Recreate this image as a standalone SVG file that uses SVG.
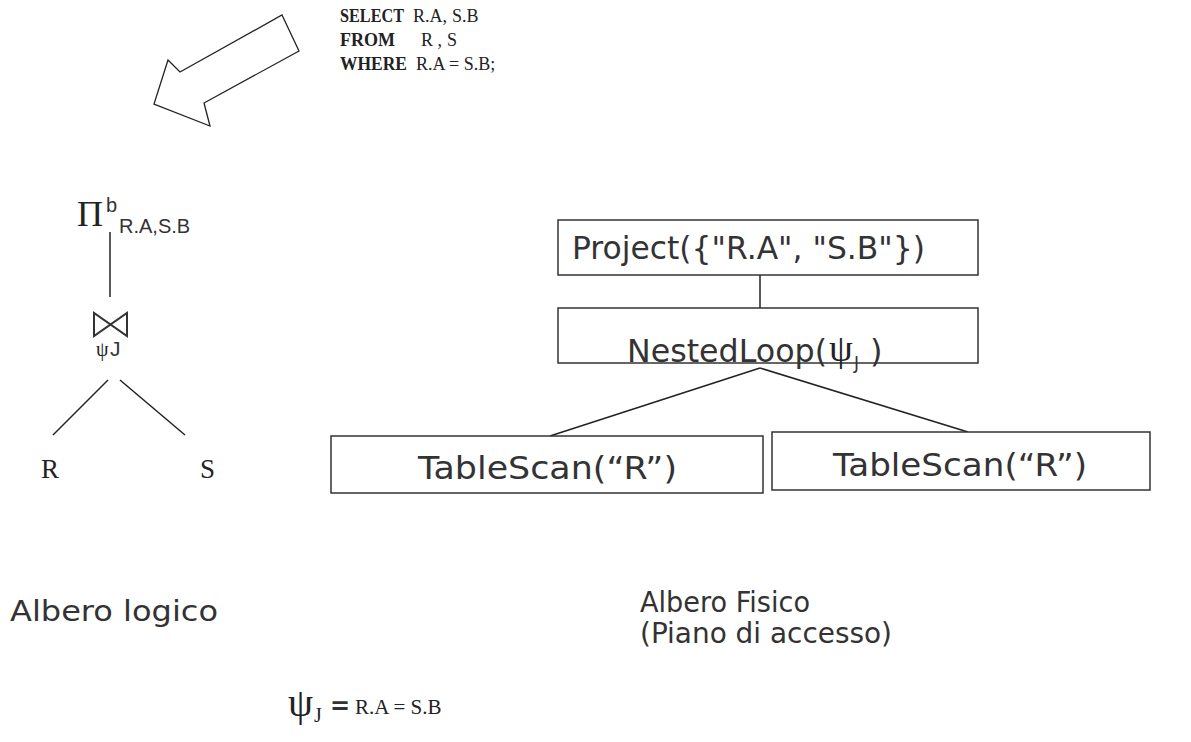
<svg xmlns="http://www.w3.org/2000/svg" width="1191" height="742" viewBox="0 0 1191 742">
<style>
.box{fill:#fff;stroke:#333;stroke-width:1.5}
.ln{stroke:#222;stroke-width:1.5;fill:none}
.hand{font-family:"DejaVu Sans","Noto Sans",sans-serif;fill:#333}
.tm{font-family:"Liberation Serif",serif;fill:#222}
.ar{font-family:"Liberation Sans",sans-serif;fill:#333}
</style>
<rect width="1191" height="742" fill="#fff"/>
<g id="arrow"><polygon points="282,15 299,51 204,103 210,126 154,104 168,60 180,72" fill="#fff" stroke="#222" stroke-width="1.3"/></g>
<g id="sql" class="tm" font-size="18">
<text x="340" y="22" font-weight="bold" textLength="64" lengthAdjust="spacingAndGlyphs">SELECT</text><text x="413" y="22">R.A,</text><text x="452" y="22">S.B</text>
<text x="340" y="46" font-weight="bold" textLength="55" lengthAdjust="spacingAndGlyphs">FROM</text><text x="421" y="46">R ,</text><text x="447" y="46">S</text>
<text x="340" y="70" font-weight="bold" textLength="67" lengthAdjust="spacingAndGlyphs">WHERE</text><text x="416" y="70">R.A = S.B;</text>
</g>
<g id="connectors">
<line class="ln" x1="110" y1="232" x2="110" y2="297"/>
<line class="ln" x1="108" y1="380" x2="53" y2="435"/>
<line class="ln" x1="120" y1="380" x2="185" y2="435"/>
<line class="ln" x1="760" y1="275" x2="760" y2="308"/>
<line class="ln" x1="760" y1="368" x2="550" y2="436"/>
<line class="ln" x1="760" y1="368" x2="968" y2="432"/>
</g>
<g id="proj-logic">
<text class="tm" x="77" y="226" font-size="36">Π</text>
<text class="ar" x="106" y="212" font-size="20">b</text>
<text class="ar" x="119" y="233" font-size="20">R.A,S.B</text>
</g>
<g id="join-logic">
<path d="M94,313 L94,336 L127,313 L127,336 Z" fill="none" stroke="#333" stroke-width="2"/>
<text class="tm" x="96" y="356" font-size="20">ψ</text>
<text class="ar" x="110" y="356" font-size="21">J</text>
</g>
<g id="R"><text class="tm" x="41" y="478" font-size="27">R</text></g>
<g id="S"><text class="tm" x="200" y="478" font-size="27">S</text></g>
<g id="project">
<rect class="box" x="558" y="220" width="420" height="55"/>
<text class="hand" x="572" y="259" font-size="32" textLength="353" lengthAdjust="spacingAndGlyphs">Project({"R.A", "S.B"})</text>
</g>
<g id="nestedloop">
<rect class="box" x="558" y="308" width="420" height="55"/>
<text class="hand" x="627" y="362" font-size="32" textLength="200" lengthAdjust="spacingAndGlyphs">NestedLoop(</text>
<text class="tm" x="829" y="361" font-size="38">ψ</text>
<text class="hand" x="854" y="369" font-size="17">J</text>
<text class="hand" x="870" y="362" font-size="32">)</text>
</g>
<g id="scan1">
<rect class="box" x="331" y="436" width="432" height="57"/>
<text class="hand" x="418" y="479" font-size="32" textLength="259" lengthAdjust="spacingAndGlyphs">TableScan(“R”)</text>
</g>
<g id="scan2">
<rect class="box" x="772" y="432" width="378" height="58"/>
<text class="hand" x="833" y="476" font-size="32" textLength="254" lengthAdjust="spacingAndGlyphs">TableScan(“R”)</text>
</g>
<g id="labels" class="hand" font-size="29">
<text x="10" y="621" textLength="208" lengthAdjust="spacingAndGlyphs">Albero logico</text>
<text x="640" y="612" textLength="170" lengthAdjust="spacingAndGlyphs">Albero Fisico</text>
<text x="640" y="643" textLength="252" lengthAdjust="spacingAndGlyphs">(Piano di accesso)</text>
</g>
<g id="psi-def">
<text class="tm" x="288" y="716" font-size="40">ψ</text>
<text class="tm" x="314" y="722" font-size="20">J</text>
<text class="hand" x="330" y="714" font-size="24" font-weight="bold">=</text>
<text class="tm" x="355" y="714" font-size="21">R.A = S.B</text>
</g>
</svg>
